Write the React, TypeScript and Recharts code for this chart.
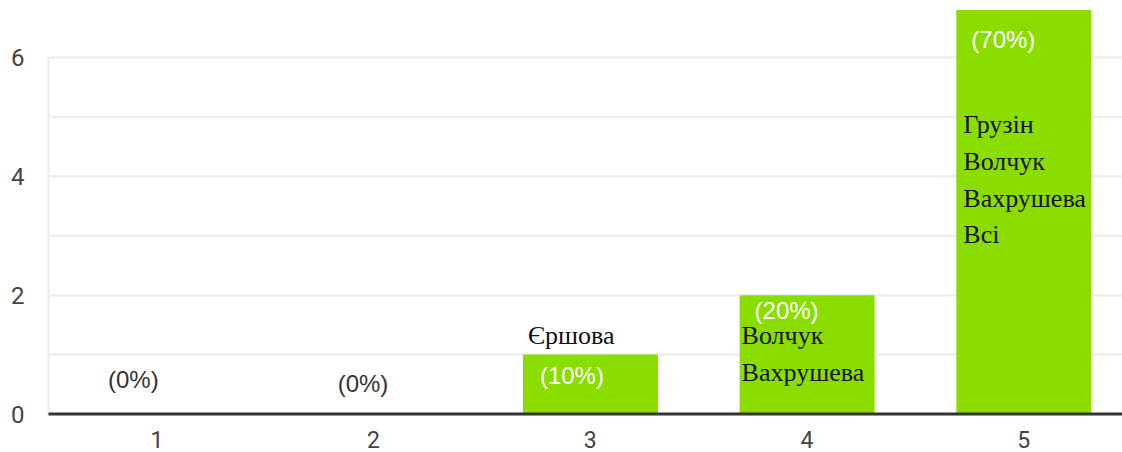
import { BarChart, Bar, XAxis, YAxis, CartesianGrid, ReferenceLine, LabelList } from 'recharts';

const categories = ['1', '2', '3', '4', '5'];
const counts = [0, 0, 1, 2, 7];
const percents = ['(0%)', '(0%)', '(10%)', '(20%)', '(70%)'];
const names = [
  [],
  [],
  ['Єршова'],
  ['Волчук', 'Вахрушева'],
  ['Грузін', 'Волчук', 'Вахрушева', 'Всі'],
];
const yTicks = [0, 1, 2, 3, 4, 5, 6];

const chartData = categories.map((cat, i) => ({ cat, count: counts[i], idx: i }));

// label placement, px relative to the bar (top clipped to the plot area)
const PLOT_TOP = 10;
const BASE_Y = 414;
const PCT_DX = [18.5, 31.5, 17, 15, 15];
const PCT_DY = [-26, -22, 29, 24, 38];
const NAME_DX = [0, 0, 5, 2, 7];
const NAME_DY = [0, 0, -11, 49, 123];
const LINE_H = 36.8;

const BarLabel = (props: any) => {
  const { x, y, value } = props;
  const i = Number(value);
  const inside = counts[i] > 0;
  const top = inside ? Math.max(Number(y), PLOT_TOP) : BASE_Y;
  return (
    <g>
      <text
        x={Number(x) + PCT_DX[i]}
        y={top + PCT_DY[i]}
        fill={inside ? '#ffffff' : '#333333'}
        fontFamily="'Liberation Sans', Arial, sans-serif"
        fontSize={24}
      >
        {percents[i]}
      </text>
      {names[i].map((n, k) => (
        <text
          key={k}
          x={Number(x) + NAME_DX[i]}
          y={top + NAME_DY[i] + k * LINE_H}
          fill="#111111"
          fontFamily="'Liberation Serif', 'Times New Roman', serif"
          fontSize={26}
        >
          {n}
        </text>
      ))}
    </g>
  );
};

export default function App() {
  return (
    <div style={{ position: 'absolute', left: 0, top: 0, width: 1122, height: 452, overflow: 'hidden', background: '#fff' }}>
      <BarChart
        width={1140}
        height={452}
        data={chartData}
        margin={{ top: PLOT_TOP, right: 8, bottom: 0, left: 0 }}
      >
        <CartesianGrid vertical={false} horizontalValues={yTicks} stroke="#eeeeee" strokeWidth={2.5} />
        <XAxis
          dataKey="cat"
          height={38}
          tickLine={false}
          tickSize={0}
          tickMargin={18}
          axisLine={{ stroke: '#333333', strokeWidth: 3 }}
          tick={{ fontSize: 23, fill: '#444444', fontFamily: 'Roboto, Arial, sans-serif' }}
        />
        <YAxis
          width={48.5}
          domain={[0, 6.8]}
          allowDataOverflow
          ticks={yTicks}
          interval={0}
          tickFormatter={(v: number) => (v % 2 === 0 ? String(v) : '')}
          tickLine={false}
          tickSize={0}
          tickMargin={24}
          axisLine={false}
          tick={{ fontSize: 24, fill: '#444444', fontFamily: 'Roboto, Arial, sans-serif' }}
        />
        <ReferenceLine
          segment={[{ x: '1', y: 0 }, { x: '1', y: 6 }]}
          position="start"
          stroke="#eeeeee"
          strokeWidth={2.5}
        />
        <Bar dataKey="count" fill="#8bdd00" barSize={135} minPointSize={1} isAnimationActive={false}>
          <LabelList dataKey="idx" content={BarLabel} />
        </Bar>
      </BarChart>
    </div>
  );
}
